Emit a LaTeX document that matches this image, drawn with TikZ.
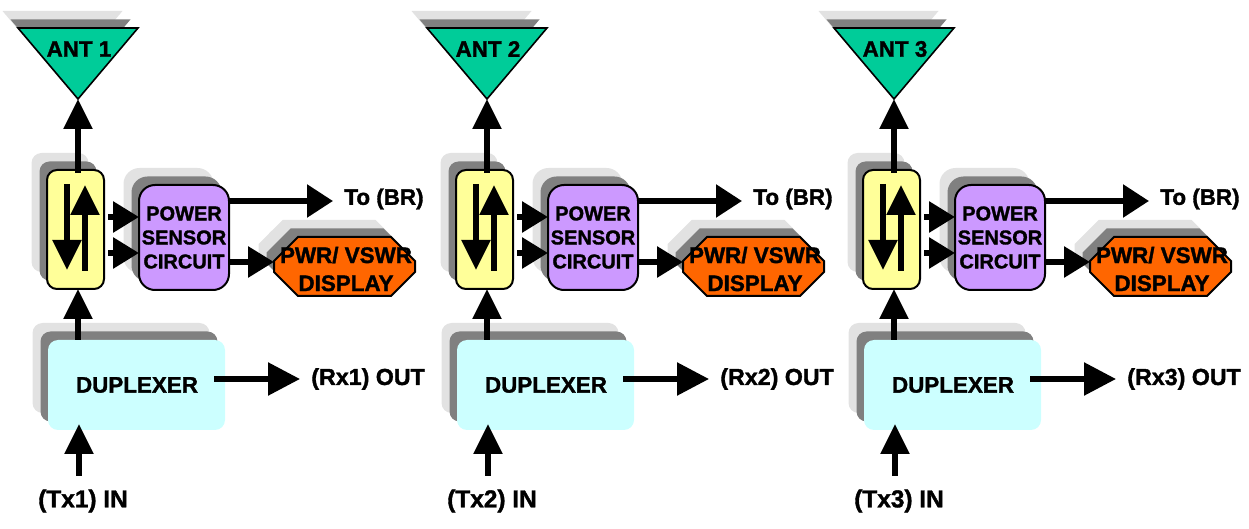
\documentclass[tikz,border=0pt]{standalone}
\usepackage{fontspec}
\setmainfont{Liberation Sans}[BoldFeatures={FakeBold=1.5}]
\usetikzlibrary{arrows.meta,shapes.geometric,shapes.misc,shadows}
\definecolor{shadeD}{HTML}{808080}
\definecolor{shadeL}{HTML}{E2E2E2}
\tikzset{
  stacked/.style={general shadow={fill=shadeL,shadow xshift=-7.75pt,shadow yshift=8.5pt},
                  general shadow={fill=shadeD,shadow xshift=-3.75pt,shadow yshift=4.25pt}},
  txt/.style={font=\fontsize{11.2}{14}\selectfont\bfseries,inner sep=0pt,align=center},
  blk/.style={rounded corners=5pt,outer sep=0pt,inner sep=0pt,stacked},
  big/.style={line width=2.8pt,-{Triangle[length=15pt,width=14pt]}},
  small/.style={line width=3pt,-{Triangle[length=13pt,width=15pt]}}
}
\begin{document}
\begin{tikzpicture}[x=0.5pt,y=-0.5pt]
  \useasboundingbox (0,0) rectangle (1249,529);
  \foreach \n/\dx in {1/0,2/409,3/816} {
    \begin{scope}[shift={(\dx,0)}]
      \node (ANT\n) [isosceles triangle,isosceles triangle stretches,shape border rotate=270,
        minimum height=35.5pt,minimum width=60pt,inner sep=0pt,outer sep=0pt,anchor=apex,
        draw,line width=0.8pt,fill={rgb,255:red,0;green,204;blue,153},stacked] at (78,99) {};
      \node (SW\n) [blk,draw,line width=1pt,fill={rgb,255:red,255;green,255;blue,153},
        minimum width=28.5pt,minimum height=59.5pt] at (75.5,229.5) {};
      \node (PS\n) [blk,draw,line width=1pt,fill={rgb,255:red,204;green,153;blue,255},rounded corners=8pt,
        minimum width=45pt,minimum height=52.5pt,txt,font=\fontsize{10}{12}\selectfont\bfseries] at (184,237.5) {POWER\\SENSOR\\CIRCUIT};
      \node (DISP\n) [chamfered rectangle,chamfered rectangle xsep=6pt,chamfered rectangle ysep=6pt,
        draw,line width=1pt,fill={rgb,255:red,255;green,102;blue,0},stacked,inner sep=0pt,outer sep=0pt] at (344.5,266.5) {\hspace*{58.5pt}\rule{0pt}{17.5pt}};
      \node (DUP\n) [blk,fill={rgb,255:red,204;green,255;blue,255},
        minimum width=88.5pt,minimum height=45pt] at (136.5,385) {};

      \node (ANTL\n) [txt] at (79,49) {ANT \n};
      \node (DISPL\n) [txt] at (346,269) {PWR/ VSWR\\DISPLAY};
      \node (DUPL\n) [txt] at (137,385) {DUPLEXER};
      \node (TO\n) [txt,anchor=west] at (344,199) {To (BR)};
      \node (RX\n) [txt,anchor=west,font=\fontsize{11.6}{14}\selectfont\bfseries] at (311,379) {(Rx\n) OUT};
      \node (TX\n) [txt,font=\fontsize{12.2}{14}\selectfont\bfseries] at (83,501) {(Tx\n) IN};
      \coordinate (TXS\n) at (79,476);

      \draw [big,shorten <=-1.5pt] (ANT\n.apex |- SW\n.north) -- (ANT\n.apex);
      \draw [big] (ANT\n.apex |- DUP\n.north) -- (ANT\n.apex |- SW\n.south);
      \draw [big,shorten >=-3pt] (TXS\n) -- (TXS\n |- DUP\n.south);
      \draw [big,-{Triangle[length=16pt,width=16pt]},shorten <=-5.5pt,shorten >=5.5pt] (DUP\n.east |- RX\n.west) -- (RX\n.west);

      \draw [big,shorten <=7pt,shorten >=9.5pt] ([xshift=-4.25pt]SW\n.north) -- ([xshift=-4.25pt]SW\n.south);
      \draw [big,shorten <=9pt,shorten >=7.5pt] ([xshift=4.75pt]SW\n.south) -- ([xshift=4.75pt]SW\n.north);

      \coordinate (PSA\n) at ([yshift=10.25pt]PS\n.west);
      \coordinate (PSB\n) at ([yshift=-7.75pt]PS\n.west);
      \draw [small,shorten <=2pt] (SW\n.east |- PSA\n) -- (PSA\n);
      \draw [small,shorten <=2pt] (SW\n.east |- PSB\n) -- (PSB\n);

      \coordinate (TOE\n) at ([yshift=-1pt]TO\n.west);
      \draw [big,-{Triangle[length=13pt,width=16pt]},shorten >=5.5pt] (PS\n.east |- TOE\n) -- (TOE\n);
      \coordinate (DISW\n) at (DISP\n.west |- 0,262);
      \draw [small] (PS\n.east |- DISW\n) -- (DISW\n);
    \end{scope}
  }
\end{tikzpicture}
\end{document}
